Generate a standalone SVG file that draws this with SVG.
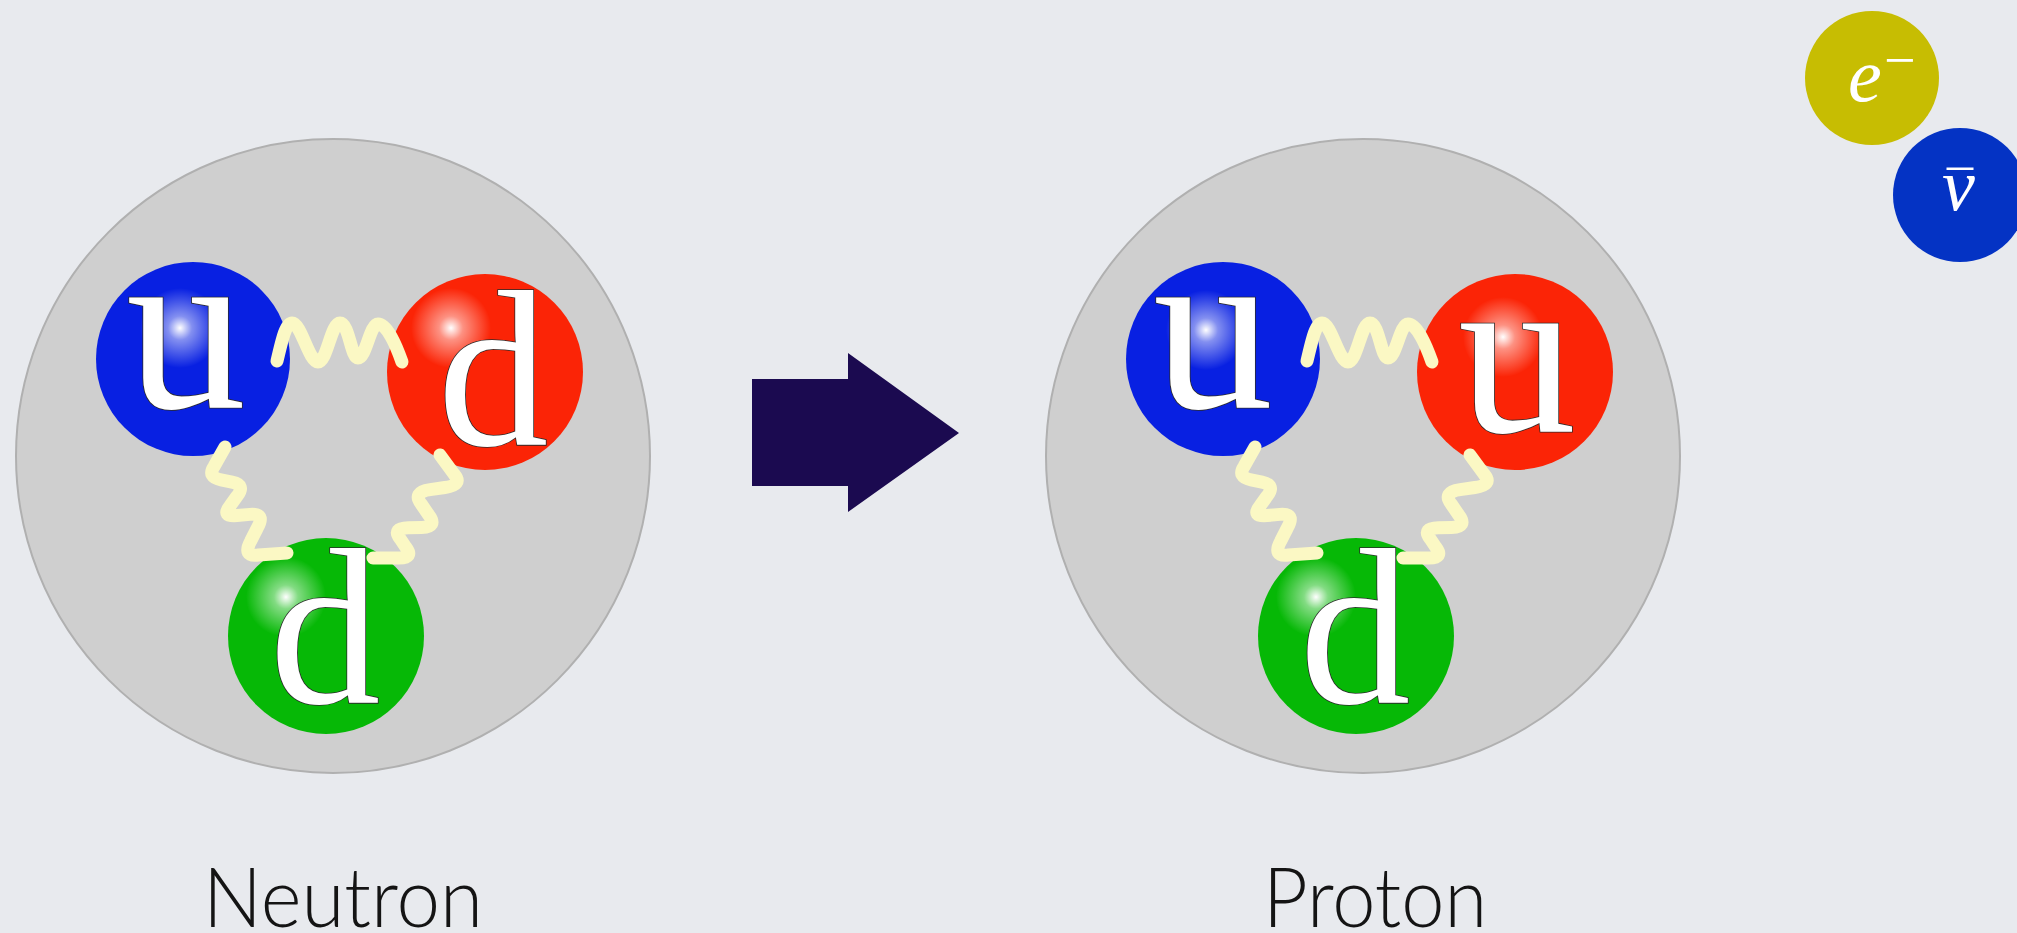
<svg xmlns="http://www.w3.org/2000/svg" width="2017" height="933" viewBox="0 0 2017 933">
  <defs>
    <radialGradient id="shine" cx="0.5" cy="0.5" r="0.5">
      <stop offset="0" stop-color="#ffffff" stop-opacity="1"/>
      <stop offset="0.3" stop-color="#ffffff" stop-opacity="0.5"/>
      <stop offset="1" stop-color="#ffffff" stop-opacity="0"/>
    </radialGradient>
    <style>
      .hadron { fill: #cfcfcf; stroke: #b0b0b0; stroke-width: 2; }
      .q-blue { fill: #0820e2; }
      .q-red { fill: #fb2406; }
      .q-green { fill: #06b806; }
      .shine { fill: url(#shine); }
      .flavour { font-family: "Liberation Serif", "DejaVu Serif", serif; fill: #ffffff; stroke: #2a2a2a; stroke-width: 1.6; paint-order: stroke; text-anchor: middle; }
      .gluon { fill: none; stroke: #fbf8c4; stroke-width: 13; stroke-linecap: round; stroke-linejoin: round; }
      .lepton-sym { font-family: "Liberation Serif", "DejaVu Serif", serif; font-style: italic; fill: #ffffff; }
      .caption { font-family: "Lato", "Open Sans", sans-serif; font-weight: 300; font-size: 82px; fill: #141414; text-anchor: middle; }
    </style>
  </defs>

  <!-- backdrop -->
  <rect x="0" y="0" width="2017" height="933" fill="#e8eaee"/>

  <!-- neutron: u d d -->
  <g id="neutron">
    <circle class="hadron" cx="333" cy="456" r="317"/>
    <g id="neutron-u">
      <circle class="q-blue" cx="193" cy="359" r="97"/>
      <circle class="shine" cx="180" cy="328" r="40"/>
      <text class="flavour" x="186" y="408" font-size="240">u</text>
    </g>
    <g id="neutron-d1">
      <circle class="q-red" cx="485" cy="372" r="98"/>
      <circle class="shine" cx="451" cy="328" r="40"/>
      <text class="flavour" x="493" y="445" font-size="222">d</text>
    </g>
    <g id="neutron-d2">
      <circle class="q-green" cx="326" cy="636" r="98"/>
      <circle class="shine" cx="286" cy="597" r="40"/>
      <text class="flavour" x="325" y="703" font-size="222">d</text>
    </g>
  </g>

  <!-- proton: u u d -->
  <g id="proton">
    <circle class="hadron" cx="1363" cy="456" r="317"/>
    <g id="proton-u1">
      <circle class="q-blue" cx="1223" cy="359" r="97"/>
      <circle class="shine" cx="1206" cy="330" r="40"/>
      <text class="flavour" x="1213" y="408" font-size="240">u</text>
    </g>
    <g id="proton-u2">
      <circle class="q-red" cx="1515" cy="372" r="98"/>
      <circle class="shine" cx="1503" cy="337" r="40"/>
      <text class="flavour" x="1517" y="432" font-size="236">u</text>
    </g>
    <g id="proton-d">
      <circle class="q-green" cx="1356" cy="636" r="98"/>
      <circle class="shine" cx="1316" cy="597" r="40"/>
      <text class="flavour" x="1355" y="703" font-size="222">d</text>
    </g>
  </g>

  <!-- decay arrow -->
  <g id="decay-arrow">
    <polygon points="752,379 848,379 848,353 959,433 848,512 848,486 752,486" fill="#1b0a50"/>
  </g>

  <!-- emitted leptons -->
  <g id="electron">
    <circle cx="1872" cy="78" r="67" fill="#c7bd02"/>
    <text class="lepton-sym"><tspan x="1848" y="101" font-size="76">e</tspan><tspan x="1884" y="79" font-size="56" font-style="normal">−</tspan></text>
  </g>
  <g id="antineutrino">
    <circle cx="1960" cy="195" r="67" fill="#0433c4"/>
    <text class="lepton-sym"><tspan x="1942" y="210" font-size="74">ν</tspan><tspan x="1960" y="208" font-size="52" font-style="normal" text-anchor="middle">¯</tspan></text>
  </g>

  <!-- gluon connectors -->
  <g id="gluons">
    <g id="neutron-gluons">
      <path class="gluon" d="M277,361 C281,345 285,323 292,323 C301,323 309,362 318,362 C327,362 331,323 340,323 C349,323 351,358 358,358 C366,358 370,324 378,324 C387,324 396,345 402,362"/>
      <path class="gluon" d="M225,447 L214,466.5 Q207,477 221,479.8 L232,482.2 Q246,485 237,496.2 L230,505.8 Q221,517 237,515.6 L250,514.4 Q266,513 257.3,528 L250.7,541 Q242,557 258.4,555 L287,553"/>
      <path class="gluon" d="M440,455 L454.3,474.5 Q463,485 444.9,487.5 L430.2,489.6 Q412,492 421.4,504.3 L428.6,514.8 Q438,527 421.6,527.4 L408.4,527.7 Q392,528 400,538.5 L406,547.5 Q414,558 399,558 L373,558"/>
    </g>
    <g id="proton-gluons" transform="translate(1030,0)">
      <path class="gluon" d="M277,361 C281,345 285,323 292,323 C301,323 309,362 318,362 C327,362 331,323 340,323 C349,323 351,358 358,358 C366,358 370,324 378,324 C387,324 396,345 402,362"/>
      <path class="gluon" d="M225,447 L214,466.5 Q207,477 221,479.8 L232,482.2 Q246,485 237,496.2 L230,505.8 Q221,517 237,515.6 L250,514.4 Q266,513 257.3,528 L250.7,541 Q242,557 258.4,555 L287,553"/>
      <path class="gluon" d="M440,455 L454.3,474.5 Q463,485 444.9,487.5 L430.2,489.6 Q412,492 421.4,504.3 L428.6,514.8 Q438,527 421.6,527.4 L408.4,527.7 Q392,528 400,538.5 L406,547.5 Q414,558 399,558 L373,558"/>
    </g>
  </g>

  <!-- captions -->
  <g id="labels">
    <text class="caption" x="343" y="927" textLength="280" lengthAdjust="spacingAndGlyphs">Neutron</text>
    <text class="caption" x="1375" y="927" textLength="224" lengthAdjust="spacingAndGlyphs">Proton</text>
  </g>
</svg>
